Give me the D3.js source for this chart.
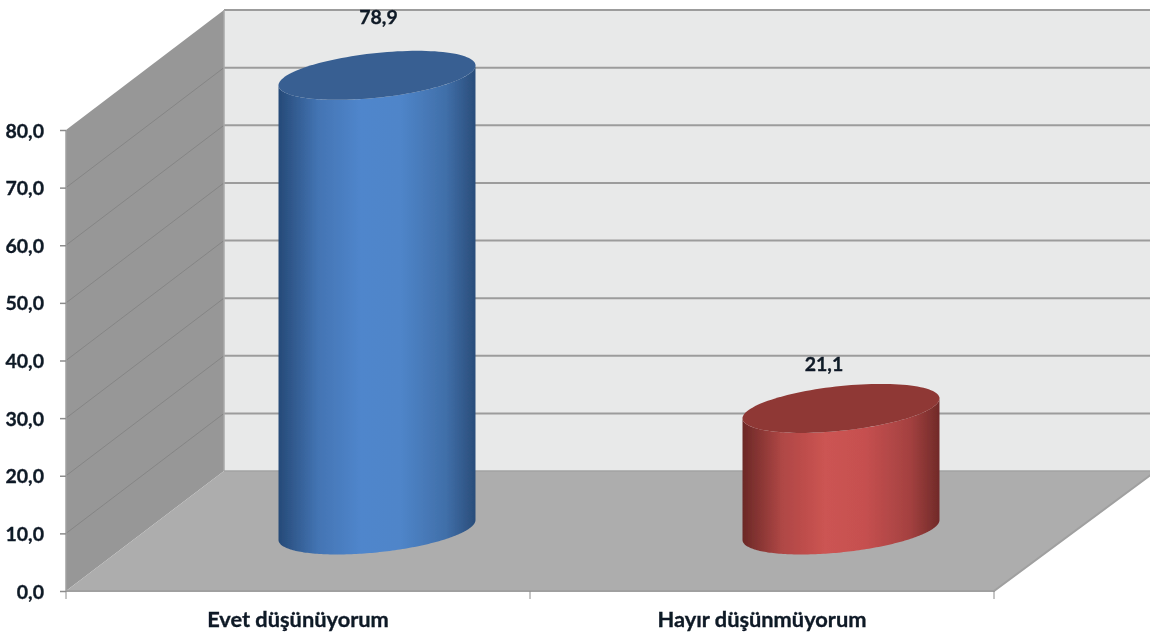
<!DOCTYPE html>
<html><head><meta charset="utf-8">
<script src="https://cdn.jsdelivr.net/npm/d3@7"></script>
<style>html,body{margin:0;padding:0;background:#fff}svg{display:block}text{font-family:Lato,"Noto Sans",sans-serif;font-weight:700;fill:#101a26;stroke:#101a26;stroke-width:0.35px}</style>
</head><body><svg id="c" width="1150" height="632"></svg>
<script>
const categories = ["Evet düşünüyorum", "Hayır düşünmüyorum"];
const values = [78.9, 21.1];
const valueLabels = ["78,9", "21,1"];
const axisTicks = [0, 10, 20, 30, 40, 50, 60, 70, 80];
const palettes = [
  {edge:"#264a78", mid:"#5086cc", hi:"#4f85c9", right:"#2a4d7a", top:"#375f92"},
  {edge:"#6b2826", mid:"#cc5452", hi:"#c65050", right:"#702a28", top:"#8f3835"}
];

const W = 1150, H = 632;
const root = d3.select("#c");
const defs = root.append("defs");
defs.append("filter").attr("id","soft")
  .attr("filterUnits","userSpaceOnUse").attr("x",0).attr("y",0).attr("width",W).attr("height",H)
  .append("feGaussianBlur").attr("stdDeviation",0.55);
const svg = root.append("g").attr("filter","url(#soft)");
const y = d3.scaleLinear().domain([0, 80]).range([591, 130]);
const x = d3.scaleBand().domain(categories).range([66, 994]);
const depth = {dx:158, dy:-120};
const wallRight = 1150;
const pathOf = d3.line();

// Walls and floor
const side = [[x.range()[0], y(0)],[x.range()[0], y(80)],[x.range()[0]+depth.dx, y(80)+depth.dy],[x.range()[0]+depth.dx, y(0)+depth.dy]];
const floor = [[x.range()[0], y(0)],[x.range()[1], y(0)],[wallRight+6, y(0)+depth.dy],[x.range()[0]+depth.dx, y(0)+depth.dy]];
svg.append("rect").attr("x",x.range()[0]+depth.dx).attr("y",y(80)+depth.dy)
  .attr("width",wallRight-(x.range()[0]+depth.dx)).attr("height",y(0)-y(80)).attr("fill","#e8e9e9");
svg.append("path").attr("d",pathOf(side)+"Z").attr("fill","#979797");
svg.append("path").attr("d",pathOf(floor)+"Z").attr("fill","#adadad");

// Gridlines
svg.append("g").selectAll("line").data(axisTicks.slice(1)).join("line")
  .attr("x1",x.range()[0]+depth.dx).attr("x2",wallRight)
  .attr("y1",d=>y(d)+depth.dy).attr("y2",d=>y(d)+depth.dy)
  .attr("stroke","#9c9c9c").attr("stroke-width",2);
svg.append("g").selectAll("line").data(axisTicks.slice(1,-1)).join("line")
  .attr("x1",x.range()[0]).attr("x2",x.range()[0]+depth.dx)
  .attr("y1",d=>y(d)).attr("y2",d=>y(d)+depth.dy)
  .attr("stroke","#858585").attr("stroke-width",1);
// Wall edges
svg.append("path").attr("d",pathOf([[x.range()[0]+depth.dx,y(0)+depth.dy],[x.range()[0]+depth.dx,y(80)+depth.dy]]))
  .attr("stroke","#a8a8a8").attr("stroke-width",1.5).attr("fill","none");
svg.append("path").attr("d",pathOf([[x.range()[0]+depth.dx,y(0)+depth.dy],[wallRight,y(0)+depth.dy]]))
  .attr("stroke","#a3a3a3").attr("stroke-width",1.5).attr("fill","none");
svg.append("path").attr("d",pathOf([[x.range()[0],y(0)],[x.range()[1],y(0)],[wallRight+6,y(0)+depth.dy]]))
  .attr("stroke","#a0a0a0").attr("stroke-width",2).attr("fill","none");
svg.append("path").attr("d",pathOf([[x.range()[0],y(80)],[x.range()[0],y(0)]])).attr("stroke","#a0a0a0").attr("stroke-width",1.5).attr("fill","none");

// Axes
const yAxis = d3.axisLeft(y).tickValues(axisTicks).tickSize(6).tickPadding(6)
  .tickFormat(d=>d3.format(".1f")(d).replace(".",","));
const ya = svg.append("g").attr("transform",`translate(${x.range()[0]},0)`).call(yAxis);
ya.select(".domain").remove();
ya.selectAll("line").attr("stroke","#8c8c8c").attr("stroke-width",1.5);
ya.selectAll("text").attr("font-size",19.5).attr("dy","0.36em").attr("x",-22);
const xTicks = x.domain().map(d=>x(d)).concat(x.range()[1]);
svg.append("g").selectAll("line").data(xTicks).join("line")
  .attr("x1",d=>d).attr("x2",d=>d).attr("y1",y(0)).attr("y2",y(0)+8)
  .attr("stroke","#8c8c8c").attr("stroke-width",1);
svg.append("g").selectAll("text").data(categories).join("text")
  .attr("x",d=>x(d)+x.bandwidth()/2).attr("y",627).attr("text-anchor","middle")
  .attr("font-size",21.8).text(d=>d);

// Cylinders
const barCx = (d,i)=> x(categories[i]) + x.bandwidth()/2 + 79;
const baseOffset = -61;
const ellipseU = 90, ellipseVx = 40, ellipseVy = -24.5;
const halfW = Math.hypot(ellipseU, ellipseVx);
const ring = (cx,cy,a0,a1)=> d3.range(0,121).map(k=>{const t=a0+(a1-a0)*k/120;
  return [cx+ellipseU*Math.cos(t)+ellipseVx*Math.sin(t), cy+ellipseVy*Math.sin(t)];});
const tR = Math.atan2(ellipseVx, ellipseU); // rightmost param
values.forEach((v,i)=>{
  const p = palettes[i], cx = barCx(v,i);
  const yBase = y(0)+baseOffset, yTop = y(v)+baseOffset;
  const gid = "g"+i;
  const g = defs.append("linearGradient").attr("id",gid).attr("gradientUnits","userSpaceOnUse")
    .attr("x1",cx-halfW).attr("x2",cx+halfW).attr("y1",0).attr("y2",0);
  [[0,p.edge],[0.2,d3.interpolateRgb(p.edge,p.mid)(0.7)],[0.42,p.mid],[0.62,p.hi],[0.85,d3.interpolateRgb(p.right,p.hi)(0.6)],[1,p.right]]
    .forEach(s=>g.append("stop").attr("offset",s[0]).attr("stop-color",s[1]));
  const front = ring(cx,yBase,tR,tR-Math.PI);
  const topBack = ring(cx,yTop,tR-Math.PI,tR);
  svg.append("path").attr("d",pathOf(front.concat(topBack))+"Z").attr("fill",`url(#${gid})`);
  svg.append("path").attr("d",pathOf(ring(cx,yTop,0,2*Math.PI))+"Z").attr("fill",p.top);
  svg.append("text").attr("x",cx+(i===0?1.5:-17)).attr("y",yTop-(i===0?51.5:37.5)).attr("text-anchor","middle")
    .attr("font-size",19.5).text(valueLabels[i]);
});
</script></body></html>
